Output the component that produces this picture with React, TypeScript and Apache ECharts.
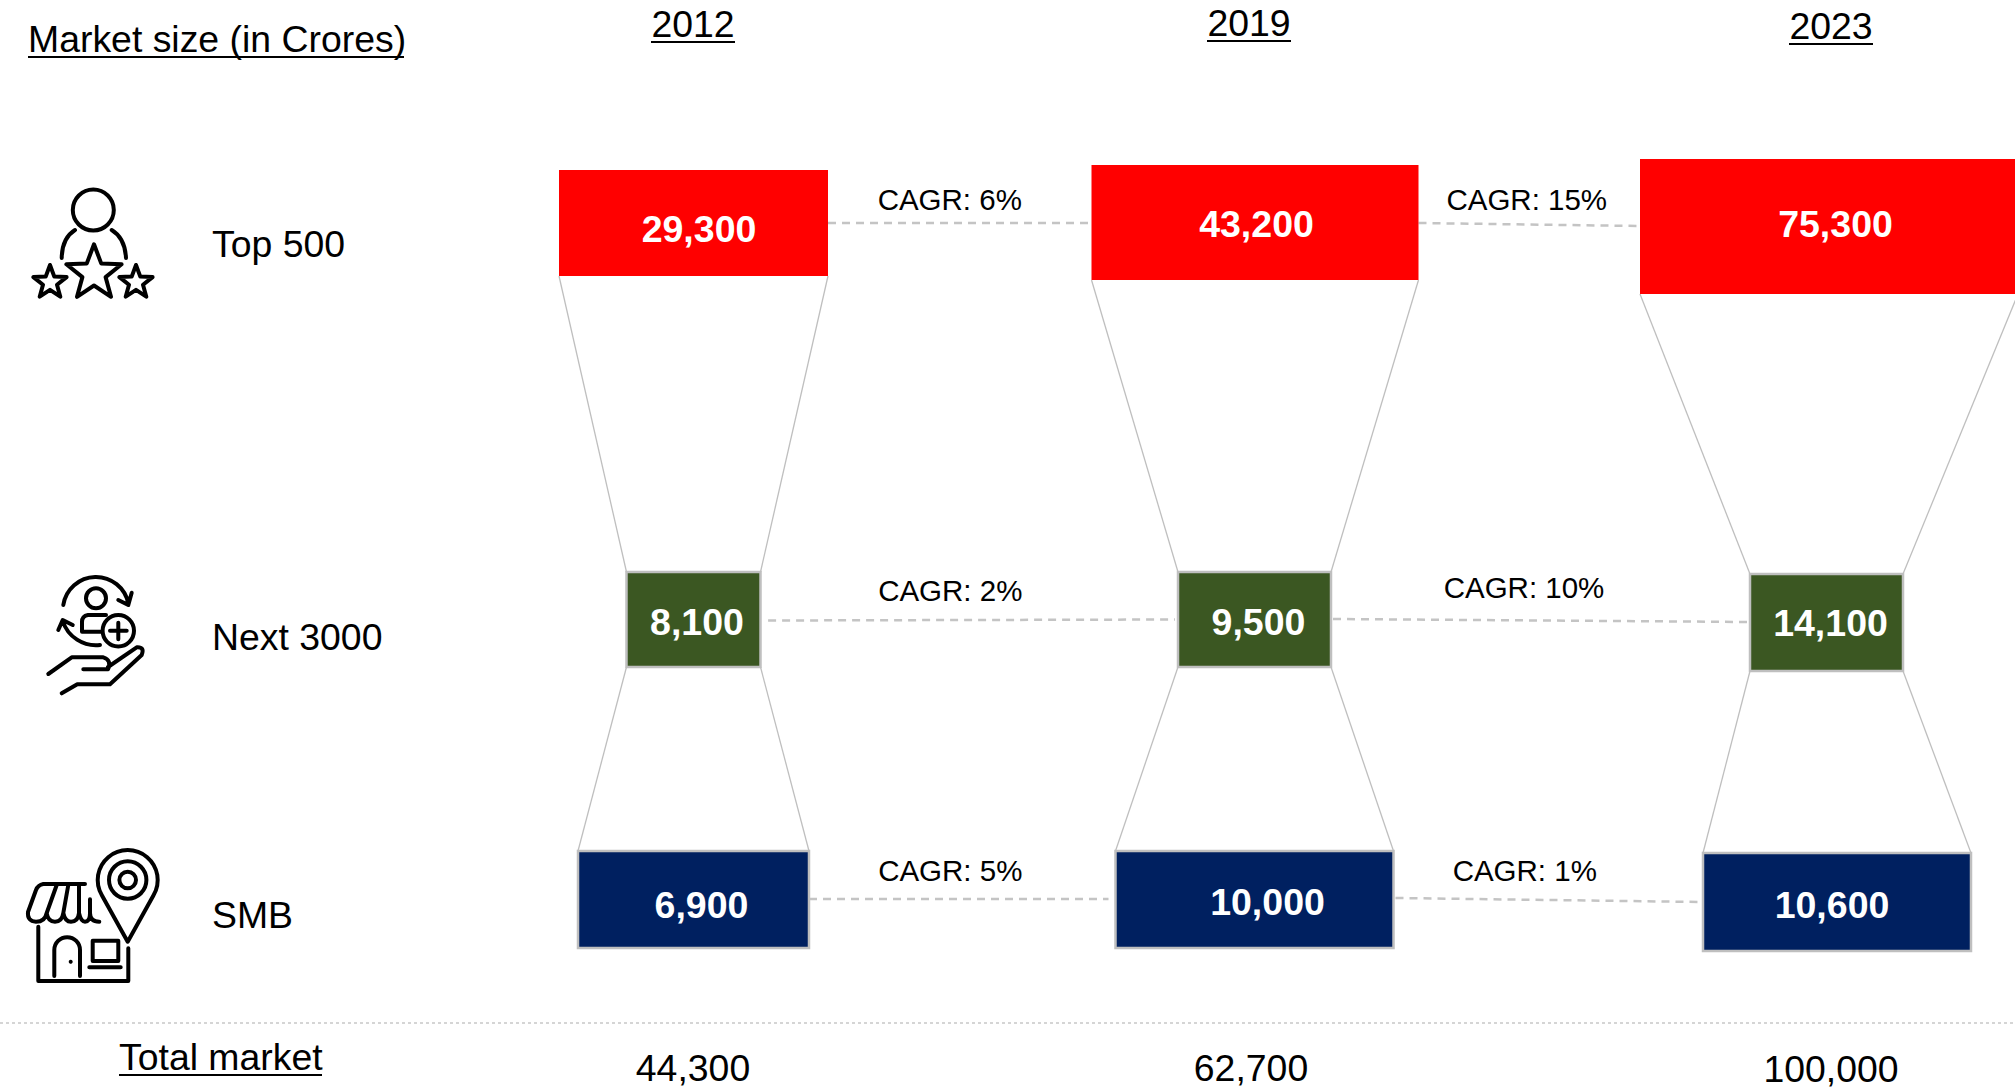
import React, { useEffect, useRef } from "react";
import * as echarts from "echarts";

const years = ["2012", "2019", "2023"];
const segments = ["Top 500", "Next 3000", "SMB"];
const top500 = [29300, 43200, 75300];
const next3000 = [8100, 9500, 14100];
const smb = [6900, 10000, 10600];
const totals = ["44,300", "62,700", "100,000"];
const cagrTop = ["CAGR: 6%", "CAGR: 15%"];
const cagrNext = ["CAGR: 2%", "CAGR: 10%"];
const cagrSmb = ["CAGR: 5%", "CAGR: 1%"];
const allValues = [top500, next3000, smb];
const allCagr = [cagrTop, cagrNext, cagrSmb];
const segColors = ["#FF0000", "#3B5722", "#002060"];
const segBorder = ["#FF0000", "#BFBFBF", "#BFBFBF"];
const FONT = "'Liberation Sans', Arial, sans-serif";

// The source slide's boxes are not to scale, so each cell has a box: [dx, dy, w, h] from the cell centre.
const BOX = [
  [[0.5, 0, 269, 106], [-5, -0.5, 327, 115], [2, 3.5, 378, 135]],
  [[0.5, 58, 134, 95], [-5.5, 58, 153, 95], [-0.5, 61, 153, 97]],
  [[0.5, -0.5, 231, 97], [-5.5, -0.5, 278, 97], [10, 2, 268, 98]],
];
// value label offset from box centre
const LABEL_OFF = [
  [[5.5, 6], [1.5, 1.5], [6.5, -2.5]],
  [[3.5, 2.5], [4, 2.5], [4, 0.5]],
  [[8, 5.5], [13, 2.5], [-5, 3]],
];
// CAGR link: [gapStart, gapEnd, yStart, yEnd, labelDx, labelDy], relative to row centre
const LINK = [
  [[0, 0, 0, 0, -10, -24], [0, 0, 0, 3, -2.5, -24]],
  [[7.6, 3, 59, 58, -19, 28.5], [2, 0, 57.5, 60.5, -16.5, 25.5]],
  [[0, 7, -1, -1, -12, -30], [2, 0, -2, 2, -23.5, -30]],
];

const boxData: number[][] = [];
allValues.forEach((row, s) => row.forEach((v, y) => boxData.push([y, s, v])));
const connectorData: number[][] = [];
years.forEach((_, y) => [0, 1].forEach((s) => connectorData.push([y, s])));
const linkData: any[][] = [];
allCagr.forEach((row, s) => row.forEach((t, i) => linkData.push([i, s, t])));

function boxRect(api: any, y: number, s: number) {
  const c = api.coord([y, s]);
  const [dx, dy, w, h] = BOX[s][y];
  return { x0: c[0] + dx - w / 2, x1: c[0] + dx + w / 2, y0: c[1] + dy - h / 2, y1: c[1] + dy + h / 2, cx: c[0] + dx, cy: c[1] + dy, rowY: c[1] };
}

function star(cx: number, cy: number, R: number) {
  const r = R * 0.42;
  let d = "";
  for (let i = 0; i < 10; i++) {
    const a = -Math.PI / 2 + (i * Math.PI) / 5;
    const q = i % 2 ? r : R;
    d += (i ? "L" : "M") + (cx + q * Math.cos(a)).toFixed(1) + "," + (cy + q * Math.sin(a)).toFixed(1);
  }
  return d + "Z";
}
function circle(cx: number, cy: number, r: number) {
  return `M${cx - r},${cy}A${r},${r} 0 1 1 ${cx + r},${cy}A${r},${r} 0 1 1 ${cx - r},${cy}Z`;
}

const ICON_PATHS =
  circle(93.3, 210, 20.5) +
  "M75,230Q62,238 61.7,258M111.7,230Q125,238 126,258" +
  star(94, 273.3, 29) +
  star(50, 282.5, 17.5) +
  star(136, 282.5, 17.5);
const ICON_NEXT =
  "M63.3,605A33,33 0 0 1 128.3,603.5M118.3,600L128.3,605L131.7,592.7" +
  "M62.7,621A35,35 0 0 0 100,645M58.3,630L62.7,620L72.7,625" +
  circle(96, 598.3, 10) +
  "M106,615L88,615Q82,616 82,622L82,631.7L102,631.7" +
  circle(118.3, 630.7, 15.7) +
  "M110,630.7L126.7,630.7M118.3,622.7L118.3,639.3" +
  "M48.3,674L71.7,657.3L103.3,657.3Q112,660 108,669.3L83.3,669.3" +
  "M108,667L136.7,647.3Q145,646.7 141.7,655L110,684.3L77.3,684.3L61.7,693.3";
const ICON_SMB =
  "M127.7,941.7L102,895.5A30,30 0 1 1 153.4,895.5Z" +
  circle(127.7, 880, 18.7) +
  circle(127.7, 880, 8.3) +
  "M85,884L43.3,884Q38,885 36,890L28,912Q27,921 36,921.7Q45,921.7 46.7,913Q48,921.7 55,921.7Q62,921.7 63.3,913Q65,921.7 71,921.7Q78,921.7 79,913Q81,921.7 85,921.7Q90,921.7 90,913L90,899.3M90,913Q90,921.7 99.3,921.7" +
  "M46.7,913L56.7,885M63.3,913L68.3,885M79,913L79,885" +
  "M38.3,926.7L38.3,981L128.3,981L128.3,948.3" +
  "M54.3,976L54.3,950A12.85,12.85 0 0 1 80,950L80,976" +
  "M92.7,940.7L118.3,940.7L118.3,961L92.7,961Z" +
  "M89.3,967.3L120.7,967.3";

echarts.graphic.registerShape("iconTop", echarts.graphic.extendPath(ICON_PATHS, {}));
echarts.graphic.registerShape("iconNext", echarts.graphic.extendPath(ICON_NEXT, {}));
echarts.graphic.registerShape("iconSmb", echarts.graphic.extendPath(ICON_SMB, {}));

const TXT = 37.4;
function label(text: string, x: number, y: number, align = "left", size = TXT) {
  return {
    type: "text",
    x,
    y,
    style: { text, fill: "#000", font: `${size}px ${FONT}`, align, verticalAlign: "middle" },
  };
}
function rule(x1: number, x2: number, y: number) {
  return { type: "line", shape: { x1, y1: y, x2, y2: y }, style: { stroke: "#000", lineWidth: 2 } };
}
const iconStyle = { stroke: "#000", fill: "none", lineWidth: 4, lineJoin: "round", lineCap: "round" };

function buildOption() {
  const yearPos = [[693, 24, 1], [1249, 23, 1], [1831, 26, 1]];
  const totalPos = [[693, 1068], [1251, 1068], [1831, 1068.5]];
  const rowPos = [244, 637, 915];
  return {
    animation: false,
    backgroundColor: "#fff",
    grid: { left: 409.5, width: 1701, top: 53.75, height: 1015.5, outerBoundsMode: "none" },
    xAxis: { type: "category", data: years, show: false },
    yAxis: { type: "category", data: segments, inverse: true, show: false },
    graphic: [
      label("Market size (in Crores)", 28, 39),
      rule(28, 404, 57),
      ...years.map((t, i) => label(t, yearPos[i][0], yearPos[i][1], "center")),
      ...years.map((_, i) => rule(yearPos[i][0] - 42, yearPos[i][0] + 42, yearPos[i][1] + 18)),
      ...segments.map((t, i) => label(t, 212, rowPos[i])),
      { type: "iconTop", style: iconStyle },
      { type: "iconNext", style: iconStyle },
      { type: "iconSmb", style: iconStyle },
      { type: "circle", shape: { cx: 70.7, cy: 961.7, r: 2 }, style: { fill: "#000" } },
      { type: "line", shape: { x1: 0, y1: 1023, x2: 2015, y2: 1023 }, style: { stroke: "#C8C8C8", lineWidth: 1.5, lineDash: [3, 3] } },
      label("Total market", 119, 1057),
      rule(119, 322, 1075),
      ...totals.map((t, i) => label(t, totalPos[i][0], totalPos[i][1], "center")),
    ],
    series: [
      {
        type: "custom",
        name: "connectors",
        coordinateSystem: "cartesian2d",
        clip: false,
        silent: true,
        data: connectorData,
        z: 1,
        renderItem: (_: any, api: any) => {
          const y = api.value(0);
          const s = api.value(1);
          const a = boxRect(api, y, s);
          const b = boxRect(api, y, s + 1);
          const st = { stroke: "#BFBFBF", lineWidth: 1.3 };
          return {
            type: "group",
            children: [
              { type: "line", shape: { x1: a.x0, y1: a.y1, x2: b.x0, y2: b.y0 }, style: st },
              { type: "line", shape: { x1: a.x1, y1: a.y1, x2: b.x1, y2: b.y0 }, style: st },
            ],
          };
        },
      },
      {
        type: "custom",
        name: "links",
        coordinateSystem: "cartesian2d",
        clip: false,
        silent: true,
        data: linkData,
        z: 1,
        encode: { x: 0, y: 1 },
        renderItem: (params: any, api: any) => {
          const i = api.value(0);
          const s = api.value(1);
          const text = linkData[params.dataIndex][2];
          const a = boxRect(api, i, s);
          const b = boxRect(api, i + 1, s);
          const [g0, g1, y0, y1, lx, ly] = LINK[s][i];
          const x0 = a.x1 + g0;
          const x1 = b.x0 - g1;
          return {
            type: "group",
            children: [
              {
                type: "line",
                shape: { x1: x0, y1: a.rowY + y0, x2: x1, y2: a.rowY + y1 },
                style: { stroke: "#C4C4C4", lineWidth: 2.5, lineDash: [8, 6] },
              },
              {
                type: "text",
                x: (a.x1 + b.x0) / 2 + lx,
                y: a.rowY + ly,
                style: { text, fill: "#000", font: `29.5px ${FONT}`, align: "center", verticalAlign: "middle" },
              },
            ],
          };
        },
      },
      {
        type: "custom",
        name: "Market size",
        coordinateSystem: "cartesian2d",
        clip: false,
        silent: true,
        data: boxData,
        z: 2,
        encode: { x: 0, y: 1, tooltip: 2 },
        renderItem: (_: any, api: any) => {
          const y = api.value(0);
          const s = api.value(1);
          const v = api.value(2);
          const b = boxRect(api, y, s);
          const [lx, ly] = LABEL_OFF[s][y];
          return {
            type: "group",
            children: [
              {
                type: "rect",
                shape: { x: b.x0, y: b.y0, width: b.x1 - b.x0, height: b.y1 - b.y0 },
                style: { fill: segColors[s], stroke: segBorder[s], lineWidth: s === 0 ? 0 : 2.5 },
              },
              {
                type: "text",
                x: b.cx + lx,
                y: b.cy + ly,
                style: {
                  text: v.toLocaleString("en-US"),
                  fill: "#fff",
                  font: `bold 37.5px ${FONT}`,
                  align: "center",
                  verticalAlign: "middle",
                },
              },
            ],
          };
        },
      },
    ],
  };
}

export default function App() {
  const ref = useRef<HTMLDivElement>(null);
  useEffect(() => {
    document.body.style.margin = "0";
    document.body.style.overflow = "hidden";
    const chart = echarts.init(ref.current!, undefined, { renderer: "svg" });
    chart.setOption(buildOption() as any);
    return () => chart.dispose();
  }, []);
  return <div ref={ref} style={{ width: 2015, height: 1089 }} />;
}
